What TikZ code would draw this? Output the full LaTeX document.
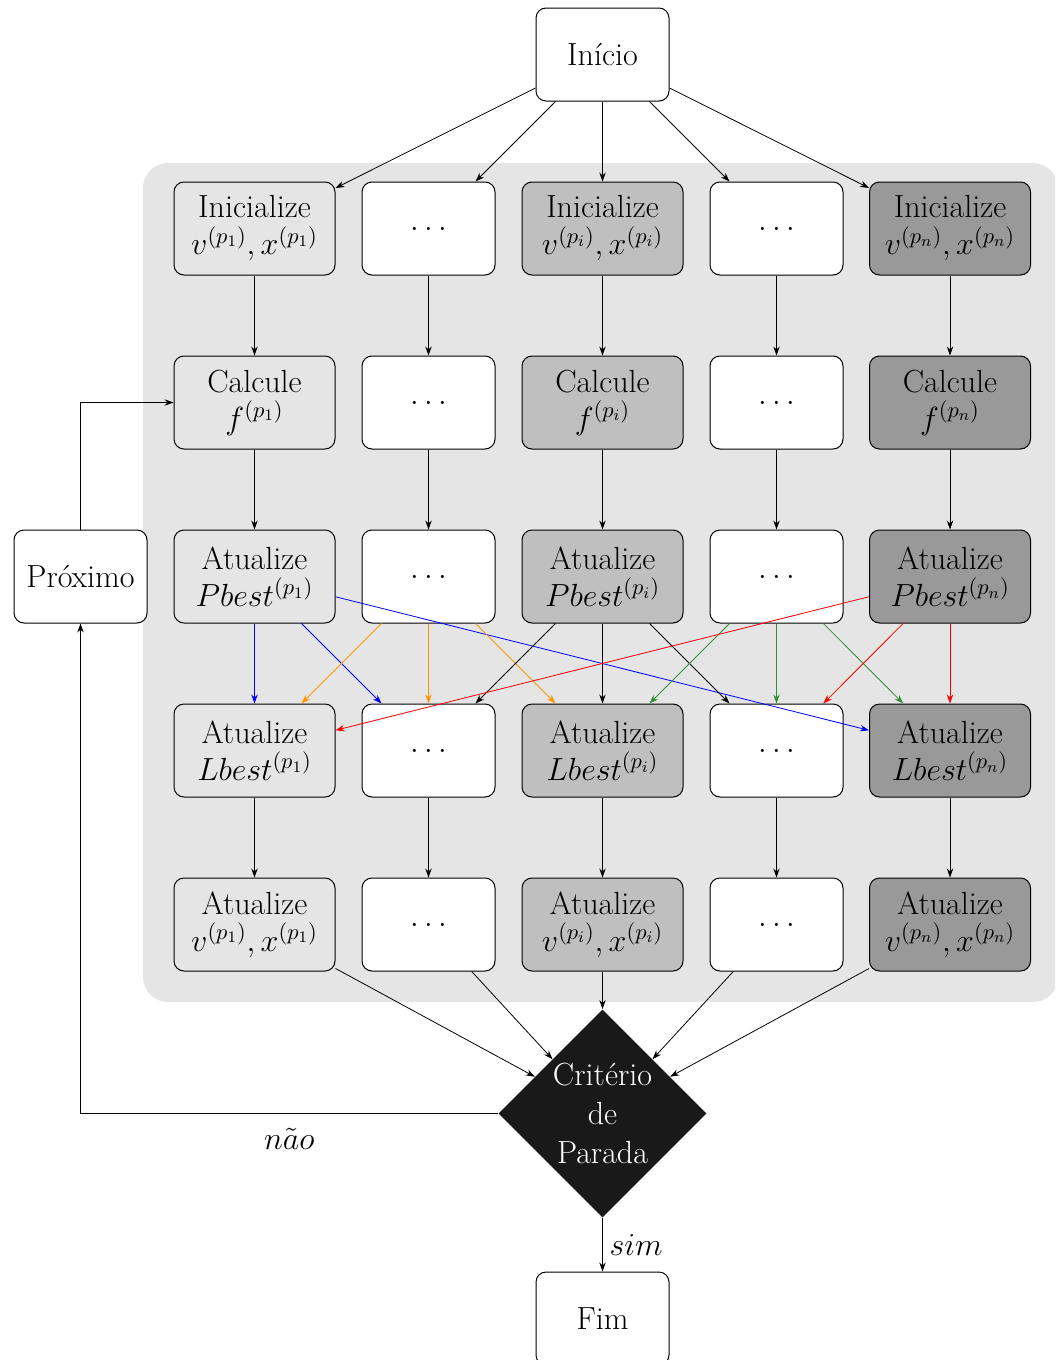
\documentclass[tikz,border=0pt]{standalone}
\usepackage{fix-cm}
\usetikzlibrary{arrows.meta,shapes.geometric}
\newcommand{\bigfont}{\fontsize{16}{18.5}\selectfont}
\begin{document}
\begin{tikzpicture}[x=0.5pt,y=-0.5pt,
  box/.style={draw, rounded corners=5pt, minimum width=80.5pt, minimum height=46.5pt, align=center, font=\bigfont, inner sep=1pt, line width=0.5pt},
  dotbox/.style={box, fill=white, minimum width=66.5pt},
  colA/.style={box, fill=black!10},
  colC/.style={box, fill=black!25},
  colE/.style={box, fill=black!40},
  arr/.style={-{Stealth[length=4.5pt,width=3.2pt]}, line width=0.4pt},
  lbl/.style={font=\bigfont}
]
\clip (0,0) rectangle (1055,1360);
\fill[black!10, rounded corners=12.5pt] (143,163) rectangle (1058,1002);

% top / bottom
\node[dotbox] (ini) at (602.5,54.5) {Início};
\node[dotbox] (fim) at (602.5,1318.5) {Fim};
\node[dotbox] (prox) at (80.5,576.5) {Próximo};
\node[diamond, aspect=1, fill=black!90, text=white, inner sep=0pt, minimum size=104pt, align=center, font=\fontsize{16}{19.5}\selectfont] (d) at (602.5,1113.5) {Critério\\ de\\ Parada};

% column 1
\node[colA] (i1) at (254.5,228.5) {Inicialize\\ $v^{(p_1)}, x^{(p_1)}$};
\node[colA] (c1) at (254.5,402.5) {Calcule\\ $f^{(p_1)}$};
\node[colA] (p1) at (254.5,576.5) {Atualize\\ $Pbest^{(p_1)}$};
\node[colA] (l1) at (254.5,750.5) {Atualize\\ $Lbest^{(p_1)}$};
\node[colA] (u1) at (254.5,924.5) {Atualize\\ $v^{(p_1)}, x^{(p_1)}$};
% column 2
\node[dotbox] (i2) at (428.5,228.5) {$\dots$};
\node[dotbox] (c2) at (428.5,402.5) {$\dots$};
\node[dotbox] (p2) at (428.5,576.5) {$\dots$};
\node[dotbox] (l2) at (428.5,750.5) {$\dots$};
\node[dotbox] (u2) at (428.5,924.5) {$\dots$};
% column 3
\node[colC] (i3) at (602.5,228.5) {Inicialize\\ $v^{(p_i)}, x^{(p_i)}$};
\node[colC] (c3) at (602.5,402.5) {Calcule\\ $f^{(p_i)}$};
\node[colC] (p3) at (602.5,576.5) {Atualize\\ $Pbest^{(p_i)}$};
\node[colC] (l3) at (602.5,750.5) {Atualize\\ $Lbest^{(p_i)}$};
\node[colC] (u3) at (602.5,924.5) {Atualize\\ $v^{(p_i)}, x^{(p_i)}$};
% column 4
\node[dotbox] (i4) at (776.5,228.5) {$\dots$};
\node[dotbox] (c4) at (776.5,402.5) {$\dots$};
\node[dotbox] (p4) at (776.5,576.5) {$\dots$};
\node[dotbox] (l4) at (776.5,750.5) {$\dots$};
\node[dotbox] (u4) at (776.5,924.5) {$\dots$};
% column 5
\node[colE] (i5) at (950,228.5) {Inicialize\\ $v^{(p_n)}, x^{(p_n)}$};
\node[colE] (c5) at (950,402.5) {Calcule\\ $f^{(p_n)}$};
\node[colE] (p5) at (950,576.5) {Atualize\\ $Pbest^{(p_n)}$};
\node[colE] (l5) at (950,750.5) {Atualize\\ $Lbest^{(p_n)}$};
\node[colE] (u5) at (950,924.5) {Atualize\\ $v^{(p_n)}, x^{(p_n)}$};

% arrows
\foreach \k in {1,...,5}{
  \draw[arr] (ini) -- (i\k);
  \draw[arr] (i\k) -- (c\k);
  \draw[arr] (c\k) -- (p\k);
  \draw[arr] (l\k) -- (u\k);
  \draw[arr] (u\k) -- (d);
}
% PBest -> LBest
\draw[arr, blue] (p1) -- (l1);
\draw[arr, blue] (p1) -- (l2);
\draw[arr, blue] (p1) -- (l5);
\draw[arr, orange!85!yellow] (p2) -- (l1);
\draw[arr, orange!85!yellow] (p2) -- (l2);
\draw[arr, orange!85!yellow] (p2) -- (l3);
\draw[arr] (p3) -- (l2);
\draw[arr] (p3) -- (l3);
\draw[arr] (p3) -- (l4);
\draw[arr, green!45!black!80] (p4) -- (l3);
\draw[arr, green!45!black!80] (p4) -- (l4);
\draw[arr, green!45!black!80] (p4) -- (l5);
\draw[arr, red] (p5) -- (l4);
\draw[arr, red] (p5) -- (l5);
\draw[arr, red] (p5) -- (l1);

% loop
\draw[arr] (d.west) -| node[pos=0.25, below, lbl, yshift=-4pt] {$n\tilde{a}o$} (prox.south);
\draw[arr] (prox.north) |- (c1.west);
\draw[arr] (d.south) -- node[right, lbl] {$sim$} (fim.north);
\end{tikzpicture}
\end{document}
